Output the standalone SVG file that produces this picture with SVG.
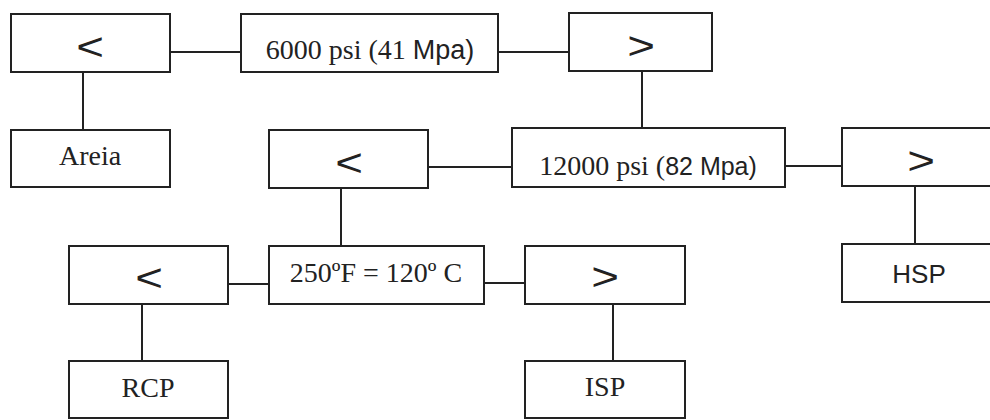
<svg xmlns="http://www.w3.org/2000/svg" width="990" height="420" viewBox="0 0 990 420">
<style>
.box{fill:#fff;stroke:#222;stroke-width:2}
.ln{fill:none;stroke:#222;stroke-width:2}
.sr{font-family:"Liberation Serif","Times New Roman",serif;font-size:28px;fill:#222;text-anchor:middle}
.ss{font-family:"Liberation Sans",Arial,sans-serif;fill:#222}
.sym{font-family:"Liberation Sans",Arial,sans-serif;font-size:38px;fill:#222;text-anchor:middle}
.lab{font-family:"Liberation Sans",Arial,sans-serif;font-size:26px;fill:#222;text-anchor:middle}
</style>
<rect width="990" height="420" fill="#fff"/>
<g id="connectors">
<line class="ln" x1="170" y1="52" x2="241" y2="52"/>
<line class="ln" x1="498" y1="52" x2="569" y2="52"/>
<line class="ln" x1="83" y1="72" x2="83" y2="130"/>
<line class="ln" x1="642" y1="71" x2="642" y2="128"/>
<line class="ln" x1="428" y1="167" x2="512" y2="167"/>
<line class="ln" x1="785" y1="166" x2="842" y2="166"/>
<line class="ln" x1="915" y1="186" x2="915" y2="244"/>
<line class="ln" x1="341" y1="188" x2="341" y2="246"/>
<line class="ln" x1="228" y1="284" x2="269" y2="284"/>
<line class="ln" x1="484" y1="283" x2="525" y2="283"/>
<line class="ln" x1="142" y1="304" x2="142" y2="361"/>
<line class="ln" x1="613" y1="304" x2="613" y2="361"/>
</g>
<g id="lt1"><rect class="box" x="11" y="14" width="159" height="58"/><text class="sym" transform="translate(90,60) scale(1.25,1)">&lt;</text></g>
<g id="p6000"><rect class="box" x="241" y="14" width="257" height="58"/><text class="sr" x="370" y="59" font-size="29" xml:space="preserve">6000 psi (41 <tspan class="ss" font-size="27">Mpa)</tspan></text></g>
<g id="gt1"><rect class="box" x="569" y="13" width="143" height="58"/><text class="sym" transform="translate(641,59) scale(1.25,1)">&gt;</text></g>
<g id="areia"><rect class="box" x="11" y="130" width="159" height="57"/><text class="sr" x="90" y="165" font-size="29">Areia</text></g>
<g id="lt2"><rect class="box" x="269" y="130" width="159" height="58"/><text class="sym" transform="translate(349,176) scale(1.25,1)">&lt;</text></g>
<g id="p12000"><rect class="box" x="512" y="128" width="273" height="59"/><text class="sr" x="648" y="175" font-size="29" xml:space="preserve">12000 psi (<tspan class="ss" font-size="25">82 Mpa)</tspan></text></g>
<g id="gt2"><rect class="box" x="842" y="128" width="160" height="58"/><text class="sym" transform="translate(921,174) scale(1.25,1)">&gt;</text></g>
<g id="hsp"><rect class="box" x="842" y="244" width="160" height="58"/><text class="lab" x="919" y="283">HSP</text></g>
<g id="lt3"><rect class="box" x="69" y="246" width="159" height="58"/><text class="sym" transform="translate(149,291) scale(1.25,1)">&lt;</text></g>
<g id="temp"><rect class="box" x="269" y="246" width="215" height="58"/><text class="sr" x="376" y="282">250ºF = 120º C</text></g>
<g id="gt3"><rect class="box" x="525" y="246" width="160" height="58"/><text class="sym" transform="translate(605,290) scale(1.25,1)">&gt;</text></g>
<g id="rcp"><rect class="box" x="69" y="361" width="159" height="57"/><text class="sr" x="148" y="397">RCP</text></g>
<g id="isp"><rect class="box" x="525" y="361" width="160" height="57"/><text class="sr" x="605" y="396">ISP</text></g>
</svg>
